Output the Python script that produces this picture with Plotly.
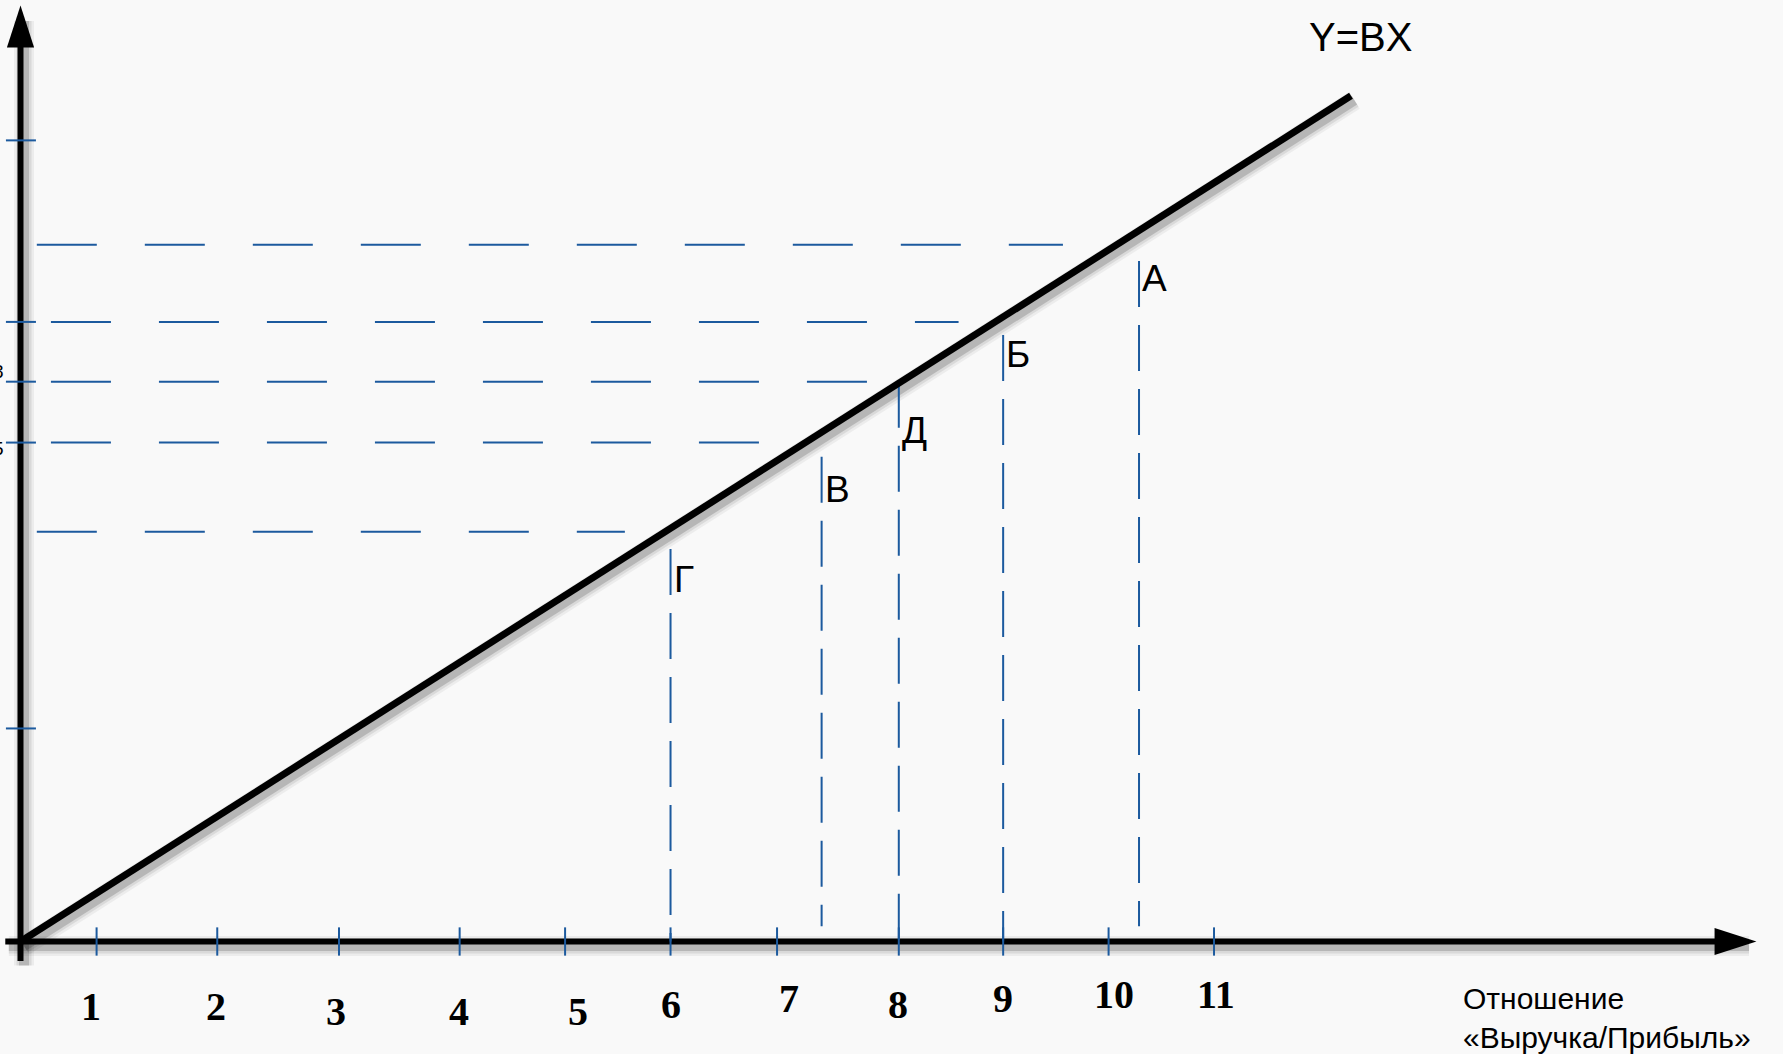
import plotly.graph_objects as go

# ---------------- data ----------------
tick_labels = ["1", "2", "3", "4", "5", "6", "7", "8", "9", "10", "11"]
tick_x = [0.70, 1.81, 2.93, 4.04, 5.01, 5.98, 6.96, 8.08, 9.04, 10.01, 10.98]
label_x = [0.65, 1.80, 2.90, 4.03, 5.13, 5.98, 7.07, 8.07, 9.04, 10.06, 11.00]
label_y = [-0.60, -0.60, -0.64, -0.64, -0.64, -0.58, -0.52, -0.58, -0.52, -0.49, -0.49]

# line Y = BX
line_x = [0.0, 12.24]
line_y = [0.0, 7.78]

# points with vertical dashed guides
pt_names = ["А", "Б", "В", "Г", "Д"]
pt_x = [10.29, 9.04, 7.37, 5.98, 8.08]
pt_top = [6.26, 5.58, 4.46, 3.61, 5.15]
pt_bottom = [0.14, 0.0, 0.14, 0.0, 0.0]
pt_label_y = [6.10, 5.40, 4.16, 3.33, 4.70]

# horizontal dashed guides
h_y = [6.41, 5.70, 5.15, 4.59, 3.77]
h_x0 = [0.15, 0.28, 0.28, 0.28, 0.15]
h_x1 = [9.59, 8.63, 7.79, 6.96, 5.56]

# small ticks on the vertical axis
ytick_levels = [7.37, 5.70, 5.15, 4.59, 1.96]
ytick_labels = {5.15: "8", 4.59: "5"}
ytick_label_y = {5.15: 5.24, 4.59: 4.54}

# axis extents
x_axis_x = [-0.14, 15.97]
y_axis_y = [-0.18, 8.61]

# ---------------- styling ----------------
W, H = 1783, 1054
PX = 108.7               # pixels per data unit
ORIGIN_PX = (20.5, 941.5)
BLUE = "#1c5a9e"
BG = "#f9f9f9"

x_range = [-ORIGIN_PX[0] / PX, (W - ORIGIN_PX[0]) / PX]
y_range = [-(H - ORIGIN_PX[1]) / PX, ORIGIN_PX[1] / PX]

fig = go.Figure()


def add_shadow(xs, ys):
    dx, dy = 3.5 / PX, -4.5 / PX
    for w, a in [(20, 0.05), (15, 0.08), (10, 0.16)]:
        fig.add_trace(go.Scatter(
            x=[v + dx for v in xs], y=[v + dy for v in ys], mode="lines",
            line=dict(color=f"rgba(0,0,0,{a})", width=w),
            hoverinfo="skip", showlegend=False))


# shadows
add_shadow([x_axis_x[0], x_axis_x[1] - 0.1], [0, 0])
add_shadow([0, 0], [y_axis_y[0], y_axis_y[1] - 0.1])
add_shadow(line_x, line_y)

# axes (line stops under the arrow head, head drawn as a marker at the tip)
fig.add_trace(go.Scatter(x=[x_axis_x[0], x_axis_x[1] - 0.2], y=[0, 0], mode="lines",
                         line=dict(color="black", width=6), hoverinfo="skip", showlegend=False))
fig.add_trace(go.Scatter(x=[0, 0], y=[y_axis_y[0], y_axis_y[1] - 0.2], mode="lines",
                         line=dict(color="black", width=6), hoverinfo="skip", showlegend=False))
fig.add_trace(go.Scatter(x=[x_axis_x[1]], y=[0], mode="markers",
                         marker=dict(symbol="arrow", angle=90, size=44, color="black",
                                     line=dict(width=0)),
                         hoverinfo="skip", showlegend=False))
fig.add_trace(go.Scatter(x=[0], y=[y_axis_y[1]], mode="markers",
                         marker=dict(symbol="arrow", angle=0, size=44, color="black",
                                     line=dict(width=0)),
                         hoverinfo="skip", showlegend=False))

# horizontal dashed lines
for y, x0, x1 in zip(h_y, h_x0, h_x1):
    fig.add_trace(go.Scatter(x=[x0, x1], y=[y, y], mode="lines",
                             line=dict(color=BLUE, width=2, dash="60px,48px"),
                             hoverinfo="skip", showlegend=False))

# vertical dashed lines
for x, top, bot in zip(pt_x, pt_top, pt_bottom):
    fig.add_trace(go.Scatter(x=[x, x], y=[top, bot], mode="lines",
                             line=dict(color=BLUE, width=2, dash="46px,18px"),
                             hoverinfo="skip", showlegend=False))

# ticks on x axis
for x in tick_x:
    fig.add_trace(go.Scatter(x=[x, x], y=[0.13, -0.13], mode="lines",
                             line=dict(color=BLUE, width=2),
                             hoverinfo="skip", showlegend=False))

# ticks on y axis
for y in ytick_levels:
    fig.add_trace(go.Scatter(x=[-0.134, 0.142], y=[y, y], mode="lines",
                             line=dict(color=BLUE, width=2),
                             hoverinfo="skip", showlegend=False))

# main line Y = BX
fig.add_trace(go.Scatter(x=line_x, y=line_y, mode="lines",
                         line=dict(color="black", width=7),
                         hoverinfo="skip", showlegend=False))

annotations = []

# tick labels
for t, x, y in zip(tick_labels, label_x, label_y):
    annotations.append(dict(x=x, y=y, xref="x", yref="y", text=t, showarrow=False,
                            xanchor="center", yanchor="middle",
                            font=dict(family="Liberation Serif", size=40, color="black",
                                      weight="bold")))

# point labels
for n, x, y in zip(pt_names, pt_x, pt_label_y):
    annotations.append(dict(x=x, y=y, xref="x", yref="y", text=n, showarrow=False,
                            xanchor="left", yanchor="middle", xshift=1,
                            font=dict(family="Liberation Sans", size=37, color="black")))

# cut-off labels at the left edge (as in the source picture)
for lvl, t in ytick_labels.items():
    annotations.append(dict(x=6 / W, y=ytick_label_y[lvl], xref="paper", yref="y", text=t,
                            showarrow=False, xanchor="right", yanchor="middle",
                            font=dict(family="Liberation Sans", size=19, color="black")))

# equation label
annotations.append(dict(x=12.33, y=8.32, xref="x", yref="y", text="Y=BX", showarrow=False,
                        xanchor="center", yanchor="middle",
                        font=dict(family="Liberation Sans", size=40, color="black")))

# axis title
annotations.append(dict(x=13.25, y=-0.70, xref="x", yref="y",
                        text="Отношение<br>«Выручка/Прибыль»", showarrow=False,
                        xanchor="left", yanchor="middle", align="left",
                        font=dict(family="Liberation Sans", size=30, color="black")))

fig.update_layout(
    width=W, height=H,
    margin=dict(l=0, r=0, t=0, b=0),
    paper_bgcolor=BG, plot_bgcolor=BG,
    xaxis=dict(range=x_range, visible=False, fixedrange=True),
    yaxis=dict(range=y_range, visible=False, fixedrange=True),
    annotations=annotations,
    showlegend=False,
)

fig.write_html("out.html", config={"displayModeBar": False},
               post_script="document.body.style.margin='0';document.body.style.overflow='hidden';")
